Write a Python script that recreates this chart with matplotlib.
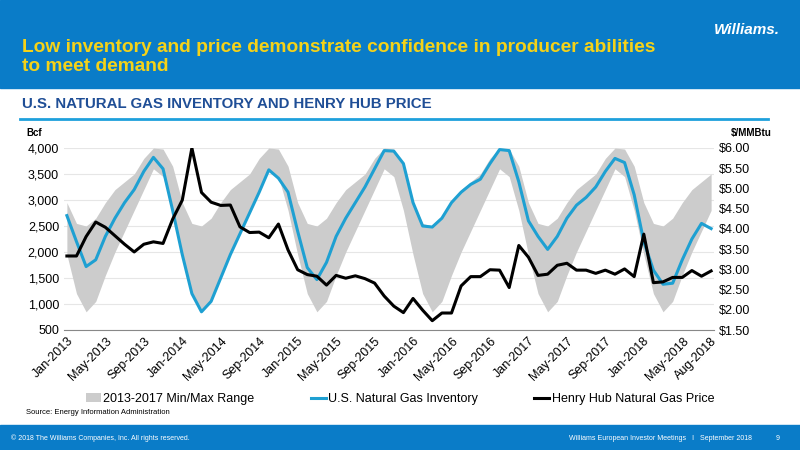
import numpy as np
import matplotlib.pyplot as plt
from matplotlib.patches import Rectangle

plt.rcParams["font.family"] = ["Liberation Sans", "DejaVu Sans"]

# Monthly data Jan-2013 .. Aug-2018
inventory = [2700, 2200, 1720, 1850, 2300, 2650, 2950, 3200, 3550, 3820, 3600, 2800,
             1950, 1200, 850, 1050, 1500, 1950, 2350, 2750, 3150, 3580, 3420, 3150,
             2400, 1700, 1470, 1800, 2300, 2650, 2950, 3250, 3600, 3950, 3940, 3700,
             2950, 2500, 2480, 2650, 2950, 3150, 3300, 3400, 3700, 3970, 3950, 3350,
             2600, 2300, 2050, 2300, 2650, 2900, 3050, 3250, 3550, 3800, 3720, 3100,
             2200, 1650, 1380, 1400, 1850, 2250, 2550, 2450]
price = [3.33, 3.33, 3.81, 4.17, 4.04, 3.83, 3.62, 3.43, 3.62, 3.68, 3.64, 4.24,
         4.71, 6.00, 4.90, 4.66, 4.58, 4.59, 4.05, 3.91, 3.92, 3.78, 4.12, 3.48,
         2.99, 2.87, 2.83, 2.61, 2.85, 2.78, 2.84, 2.77, 2.66, 2.34, 2.09, 1.93,
         2.28, 1.99, 1.73, 1.92, 1.92, 2.59, 2.82, 2.82, 2.99, 2.98, 2.55, 3.59,
         3.30, 2.85, 2.88, 3.10, 3.15, 2.98, 2.98, 2.90, 2.98, 2.88, 3.01, 2.82,
         3.87, 2.67, 2.69, 2.80, 2.80, 2.97, 2.83, 2.96]
# 2013-2017 min/max by calendar month (Jan..Dec)
range_max = [2950, 2550, 2500, 2650, 2950, 3200, 3350, 3500, 3800, 4000, 3980, 3650]
range_min = [1950, 1200, 850, 1050, 1550, 2000, 2400, 2800, 3200, 3600, 3450, 2800]
tick_labels = ["Jan-2013", "May-2013", "Sep-2013", "Jan-2014", "May-2014", "Sep-2014",
               "Jan-2015", "May-2015", "Sep-2015", "Jan-2016", "May-2016", "Sep-2016",
               "Jan-2017", "May-2017", "Sep-2017", "Jan-2018", "May-2018", "Aug-2018"]

n = len(inventory)
x = np.arange(n)
band_hi = [range_max[i % 12] for i in range(n)]
band_lo = [range_min[i % 12] for i in range(n)]

fig = plt.figure(figsize=(8, 4.5), dpi=100)
fig.patch.set_facecolor("white")

# header and footer bands
fig.add_artist(Rectangle((0, 1 - 88 / 450), 1, 88 / 450, transform=fig.transFigure,
                         color="#0a7cc8", zorder=0))
fig.add_artist(Rectangle((0, 0), 1, 25 / 450, transform=fig.transFigure,
                         color="#0a7cc8", zorder=0))
fig.text(0.027, 1 - 57 / 450, "Low inventory and price demonstrate confidence in producer abilities\nto meet demand",
         color="#f5d218", fontsize=13.8, fontweight="bold", va="center", linespacing=1.1)
fig.text(0.975, 1 - 30 / 450, "Williams.", color="white", fontsize=11, fontweight="bold",
         style="italic", ha="right", va="center")
fig.text(0.027, 1 - 104 / 450, "U.S. NATURAL GAS INVENTORY AND HENRY HUB PRICE",
         color="#1f4e96", fontsize=10.8, fontweight="bold", va="center")
fig.add_artist(plt.Line2D([0.025, 0.96], [1 - 119 / 450] * 2, transform=fig.transFigure,
                          color="#1ea0dc", lw=2))
fig.text(0.033, 1 - 412 / 450, "Source: Energy Information Administration", fontsize=5.5, va="center")
fig.text(0.014, 1 - 438 / 450, "© 2018 The Williams Companies, Inc. All rights reserved.",
         color="white", fontsize=5, va="center")
fig.text(0.94, 1 - 438 / 450, "Williams European Investor Meetings   I   September 2018",
         color="white", fontsize=5, va="center", ha="right")
fig.text(0.975, 1 - 438 / 450, "9", color="white", fontsize=5, va="center", ha="right")

ax = fig.add_axes([0.08, 1 - 330 / 450, 0.8125, 182 / 450])
ax.fill_between(x, band_lo, band_hi, color="#cccccc", lw=0, label="2013-2017 Min/Max Range")
ax.plot(x, inventory, color="#1ea0d2", lw=2.2, label="U.S. Natural Gas Inventory")
ax.set_ylim(500, 4000)
ax.set_xlim(-0.3, n - 0.7)
ax.set_yticks(range(500, 4001, 500))
ax.set_yticklabels([f"{v:,}" for v in range(500, 4001, 500)], fontsize=9)
ax.grid(axis="y", color="#e6e6e6", lw=0.8)
ax.set_axisbelow(True)
for s in ["top", "right", "left"]:
    ax.spines[s].set_visible(False)
ax.spines["bottom"].set_color("#888888")
ax.tick_params(length=0)
ticks = sorted(set(list(range(0, n, 4)) + [n - 1]))
ax.set_xticks(ticks)
ax.set_xticklabels(tick_labels, rotation=45, ha="right", rotation_mode="anchor", fontsize=9)

ax2 = ax.twinx()
ax2.plot(x, price, color="black", lw=2.2, label="Henry Hub Natural Gas Price")
ax2.set_ylim(1.5, 6.0)
ax2.set_yticks(np.arange(1.5, 6.01, 0.5))
ax2.set_yticklabels([f"${v:.2f}" for v in np.arange(1.5, 6.01, 0.5)], fontsize=9)
for s in ["top", "right", "left", "bottom"]:
    ax2.spines[s].set_visible(False)
ax2.tick_params(length=0)

fig.text(0.033, 1 - 133 / 450, "Bcf", fontsize=7, fontweight="bold", va="center")
fig.text(0.965, 1 - 133 / 450, "$/MMBtu", fontsize=7, fontweight="bold", va="center", ha="right")

h1, l1 = ax.get_legend_handles_labels()
h2, l2 = ax2.get_legend_handles_labels()
fig.legend(h1 + h2, l1 + l2, loc="center", bbox_to_anchor=(0.5, 1 - 399 / 450), ncol=3,
           frameon=False, handlelength=1.2, handletextpad=0.2, columnspacing=4.5,
           prop={"size": 9})

fig.savefig("out.png", dpi=100)
